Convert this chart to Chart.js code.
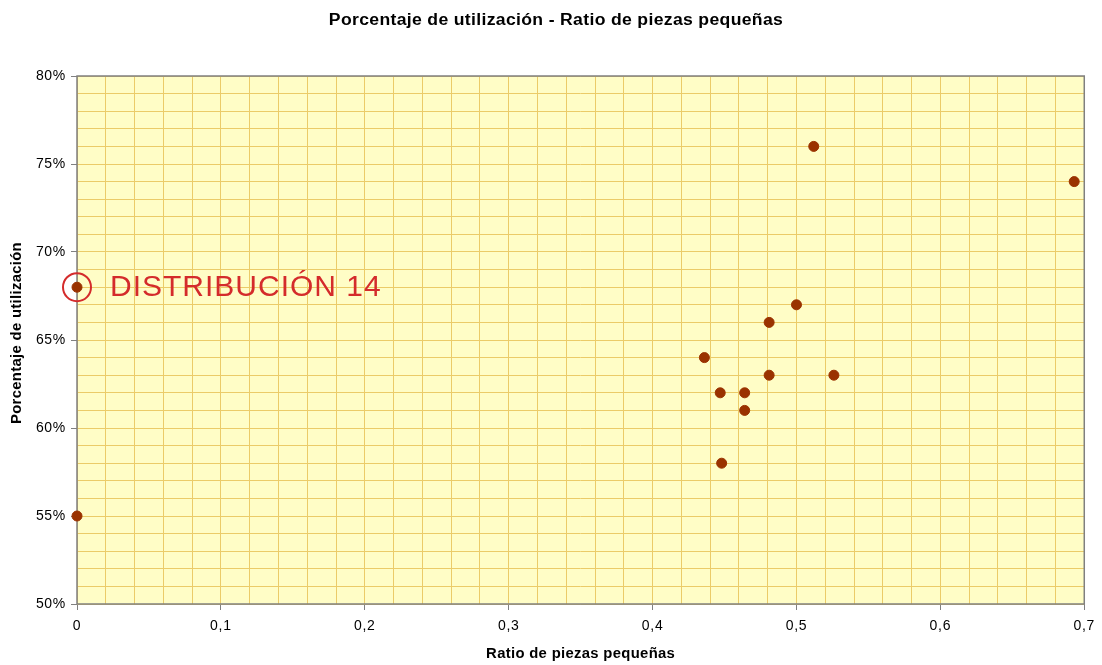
<!DOCTYPE html>
<html>
<head>
<meta charset="utf-8">
<script src="https://cdn.jsdelivr.net/npm/chart.js@4/dist/chart.umd.min.js"></script>
<style>
html,body{margin:0;padding:0;background:#fff;}
#wrap{width:1102px;height:665px;position:relative;}
</style>
</head>
<body>
<div id="wrap"><canvas id="c" width="1102" height="665"></canvas></div>
<script>
const chartTitle = 'Porcentaje de utilización - Ratio de piezas pequeñas';
const xTitle = 'Ratio de piezas pequeñas';
const yTitle = 'Porcentaje de utilización';
const ratioPiezasPequenas = [0, 0, 0.436, 0.447, 0.448, 0.464, 0.464, 0.481, 0.481, 0.5, 0.512, 0.526, 0.693];
const porcentajeUtilizacion = [0.68, 0.55, 0.64, 0.62, 0.58, 0.62, 0.61, 0.66, 0.63, 0.67, 0.76, 0.63, 0.74];
const highlightIndex = 0;
const highlightLabel = 'DISTRIBUCIÓN 14';
const xMin = 0, xMax = 0.7, xMinorStep = 0.02, xMajorStep = 0.1;
const yMin = 0.5, yMax = 0.8, yMinorStep = 0.01, yMajorStep = 0.05;

const FONT = "Arial, 'Liberation Sans', sans-serif";
const isMajor = (v, step) => Math.abs(v / step - Math.round(v / step)) < 1e-6;

const points = ratioPiezasPequenas.map((x, i) => ({x, y: porcentajeUtilizacion[i]}));

function stretchedText(ctx, text, x, y, sx, rot) {
  ctx.save();
  ctx.translate(x, y);
  if (rot) ctx.rotate(rot);
  ctx.scale(sx, 1);
  ctx.fillText(text, 0, 0);
  ctx.restore();
}

const bgPlugin = {
  id: 'bgPlugin',
  beforeDraw(chart) {
    const {ctx, chartArea: a} = chart;
    ctx.letterSpacing = '0.7px';
    ctx.save();
    ctx.fillStyle = '#FFFDC6';
    ctx.fillRect(a.left, a.top, a.right - a.left, a.bottom - a.top);
    ctx.restore();
  },
  beforeDatasetsDraw(chart) {
    const {ctx, chartArea: a} = chart;
    ctx.save();
    ctx.strokeStyle = '#808080';
    ctx.lineWidth = 1.5;
    ctx.strokeRect(a.left, a.top, a.right - a.left, a.bottom - a.top);
    ctx.restore();
  },
  afterDatasetsDraw(chart) {
    const {ctx} = chart;
    const xs = chart.scales.x, ys = chart.scales.y;
    const px = xs.getPixelForValue(ratioPiezasPequenas[highlightIndex]);
    const py = ys.getPixelForValue(porcentajeUtilizacion[highlightIndex]);
    ctx.save();
    ctx.strokeStyle = '#D42B2B';
    ctx.lineWidth = 2;
    ctx.beginPath();
    ctx.arc(px, py, 14, 0, Math.PI * 2);
    ctx.stroke();
    ctx.fillStyle = '#D42B2B';
    ctx.font = '30px ' + FONT;
    ctx.letterSpacing = '1px';
    ctx.textBaseline = 'middle';
    ctx.textAlign = 'left';
    ctx.fillText(highlightLabel, px + 33, py + 1);
    ctx.restore();
  },
  afterDraw(chart) {
    const {ctx, chartArea: a} = chart;
    ctx.save();
    ctx.letterSpacing = '0.3px';
    ctx.fillStyle = '#000';
    ctx.textBaseline = 'middle';
    ctx.textAlign = 'center';
    ctx.font = 'bold 16px ' + FONT;
    stretchedText(ctx, chartTitle, 556, 21, 1.1, 0);
    ctx.font = 'bold 14px ' + FONT;
    stretchedText(ctx, xTitle, (a.left + a.right) / 2, 654, 1.06, 0);
    stretchedText(ctx, yTitle, 17, 333, 1.06, -Math.PI / 2);
    ctx.restore();
    ctx.letterSpacing = '0px';
  }
};

new Chart(document.getElementById('c'), {
  type: 'scatter',
  data: {
    datasets: [{
      data: points,
      backgroundColor: '#9A3200',
      borderColor: '#9A3200',
      pointRadius: 5,
      pointHoverRadius: 5,
      clip: false
    }]
  },
  options: {
    responsive: false,
    animation: false,
    layout: {padding: {left: 0, right: 17, top: 76, bottom: 0}},
    plugins: {
      legend: {display: false},
      tooltip: {enabled: false},
      title: {display: false}
    },
    scales: {
      x: {
        type: 'linear',
        min: xMin, max: xMax,
        afterFit(s) { s.height = 61; },
        border: {display: false},
        grid: {
          color: '#EBCB68',
          lineWidth: 1,
          drawTicks: true,
          tickLength: 6,
          tickColor: c => isMajor(c.tick.value, xMajorStep) ? '#808080' : 'rgba(0,0,0,0)'
        },
        ticks: {
          stepSize: xMinorStep,
          autoSkip: false,
          maxRotation: 0,
          padding: 8,
          color: '#000',
          font: {family: FONT, size: 14},
          callback: v => isMajor(v, xMajorStep) ? String(Math.round(v * 10) / 10).replace('.', ',') : ''
        },
        title: {display: false}
      },
      y: {
        type: 'linear',
        min: yMin, max: yMax,
        afterFit(s) { s.width = 77; },
        border: {display: false},
        grid: {
          color: '#EBCB68',
          lineWidth: 1,
          drawTicks: true,
          tickLength: 6,
          tickColor: c => isMajor(c.tick.value, yMajorStep) ? '#808080' : 'rgba(0,0,0,0)'
        },
        ticks: {
          stepSize: yMinorStep,
          autoSkip: false,
          padding: 5,
          color: '#000',
          font: {family: FONT, size: 14},
          callback: v => isMajor(v, yMajorStep) ? Math.round(v * 100) + '%' : ''
        },
        title: {display: false}
      }
    }
  },
  plugins: [bgPlugin]
});
</script>
</body>
</html>
